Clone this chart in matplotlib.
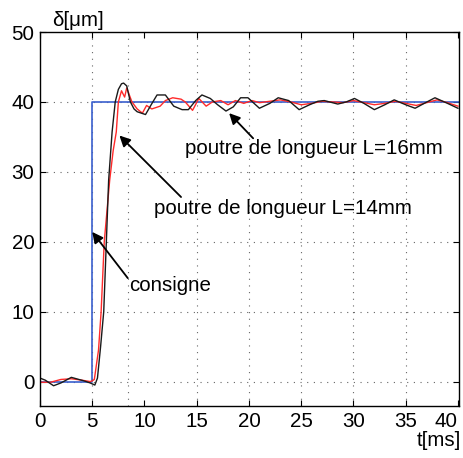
import matplotlib
matplotlib.use("Agg")
import matplotlib.pyplot as plt

plt.rcParams['font.family'] = ['Liberation Sans', 'DejaVu Sans']

# consigne (step)
t_cons = [0, 5, 5, 40.1]
y_cons = [0, 0, 40, 40]

# poutre L=16mm (black)
t_16 = [0, 0.5, 1.3, 2.0, 3.0, 4.2, 4.8, 5.25, 5.5, 5.8, 6.1, 6.35, 6.57, 6.9, 7.2,
        7.5, 7.8, 8.0, 8.3, 8.65, 9.0, 9.3, 9.7, 10.1, 10.6, 11.2, 12.0, 12.8, 13.6,
        14.2, 14.9, 15.5, 16.3, 17.0, 17.8, 18.5, 19.2, 19.9, 21.0, 22.0, 22.8, 23.8,
        24.8, 25.8, 26.6, 27.2, 28.5, 29.3, 30.1, 31.0, 32.0, 33.0, 33.9, 35.0, 35.9,
        36.9, 37.8, 39.0, 40.0]
y_16 = [0.5, 0.2, -0.6, -0.2, 0.6, 0.1, -0.2, -0.5, 0.5, 5, 10, 20, 28.8, 35.7, 40,
        41.8, 42.6, 42.7, 42.3, 40, 39.0, 38.6, 38.4, 38.2, 39.5, 41.0, 41.0, 39.4, 38.9,
        38.9, 40.2, 41.0, 40.5, 39.6, 38.7, 39.3, 40.6, 40.6, 39.1, 39.8, 40.6, 40.2,
        38.9, 39.6, 40.1, 40.2, 39.7, 40.0, 40.5, 39.8, 38.9, 39.6, 40.3, 39.6, 39.1,
        39.9, 40.6, 39.8, 39.1]

# poutre L=14mm (red)
t_14 = [0, 1.0, 2.0, 3.0, 4.0, 4.8, 5.0, 5.2, 5.6, 5.85, 6.15, 6.67, 7.0, 7.3, 7.5,
        7.8, 8.1, 8.3, 8.8, 9.3, 9.8, 10.2, 10.7, 11.5, 12.0, 12.7, 13.5, 13.9, 14.6,
        15.2, 15.9, 16.5, 17.3, 18.0, 18.7, 19.5, 20.3, 21.0, 22.0, 23.0, 24.0, 25.0,
        26.0, 27.0, 28.0, 29.0, 30.0, 31.0, 32.0, 33.0, 34.0, 35.0, 36.0, 37.0, 38.0,
        39.0, 40.0]
y_14 = [-0.1, -0.1, 0.3, 0.4, 0.2, 0.0, 0.1, 0.3, 4.5, 10, 20, 28.8, 33, 35.7, 40,
        41.6, 40.7, 42.0, 40, 39.0, 38.4, 39.5, 39.0, 39.4, 40.2, 40.6, 40.4, 40.0, 38.8,
        40.5, 39.4, 40.0, 40.2, 39.6, 40.2, 39.8, 40.2, 39.9, 40.1, 40.3, 40.0, 39.6,
        39.8, 40.1, 40.0, 39.9, 40.2, 39.9, 39.6, 39.8, 40.1, 39.8, 39.5, 39.9, 40.3,
        39.9, 39.4]

x_ticks = [0, 5, 10, 15, 20, 25, 30, 35, 40]
y_ticks = [0, 10, 20, 30, 40, 50]
x_grid = [5, 8.4, 15, 20, 25, 30, 35]

fs = 14.8

fig = plt.figure(figsize=(4.64, 4.58), dpi=100)
ax = fig.add_axes([0.0862, 0.1135, 0.903, 0.8165])

dots = dict(color='#666666', lw=0.8, ls=(0, (1, 5)), zorder=0)
for xg in x_grid:
    ax.axvline(xg, **dots)
for yg in y_ticks[:-1]:
    ax.axhline(yg, **dots)

ax.plot(t_cons, y_cons, color='#3a5fcd', lw=1.2)
ax.plot(t_14, y_14, color='#ff2a2a', lw=1.0)
ax.plot(t_16, y_16, color='#1a1a1a', lw=1.0)

ax.set_xlim(0, 40.1)
ax.set_ylim(-3.5, 50)
ax.set_xticks(x_ticks)
ax.set_yticks(y_ticks)
ax.tick_params(direction='in', top=True, right=True, length=4, width=0.8,
               labelsize=fs, pad=4)
ax.get_xticklabels()[-1].set_ha('right')
for s in ax.spines.values():
    s.set_linewidth(1.0)

arrow = dict(arrowstyle='-|>', color='k', lw=1.3, mutation_scale=16,
             shrinkA=0, shrinkB=0)
ax.annotate('', xy=(18.1, 38.4), xytext=(20.4, 34.8), arrowprops=arrow)
ax.text(13.9, 33.4, 'poutre de longueur L=16mm', fontsize=fs, va='center')
ax.annotate('', xy=(7.6, 35.2), xytext=(13.5, 26.4), arrowprops=arrow)
ax.text(10.9, 24.8, 'poutre de longueur L=14mm', fontsize=fs, va='center')
ax.annotate('', xy=(5.0, 21.4), xytext=(8.4, 14.8), arrowprops=arrow)
ax.text(8.5, 13.8, 'consigne', fontsize=fs, va='center')

ax.text(0.028, 1.005, 'δ[μm]', fontsize=fs, transform=ax.transAxes, va='bottom')
ax.text(1.005, -0.092, 't[ms]', fontsize=fs, transform=ax.transAxes,
        ha='right', va='center')

fig.savefig('out.png', dpi=100)
